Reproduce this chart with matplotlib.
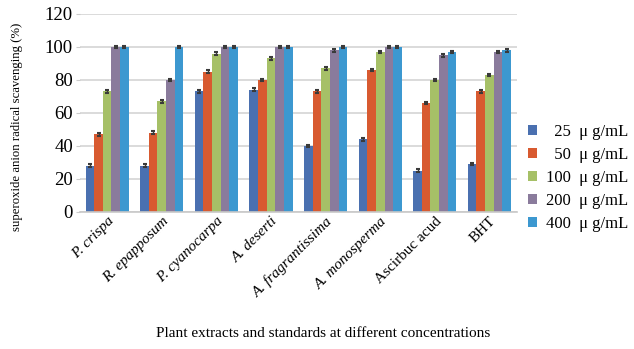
import matplotlib
matplotlib.use("Agg")
import matplotlib.pyplot as plt
import numpy as np

plt.rcParams['font.family'] = ['Liberation Serif', 'DejaVu Serif']

# extractos y patrones
plantas = ["P. crispa", "R. epapposum", "P. cyanocarpa", "A. deserti",
           "A. fragrantissima", "A. monosperma", "Ascirbuc acud", "BHT"]
cursiva = [True, True, True, True, True, True, False, False]

conc = ["25", "50", "100", "200", "400"]

# % de captura del anion superoxido por concentracion
c25 = [28, 28, 73, 74, 40, 44, 25, 29]
c50 = [47, 48, 85, 80, 73, 86, 66, 73]
c100 = [73, 67, 96, 93, 87, 97, 80, 83]
c200 = [100, 80, 100, 100, 98, 100, 95, 97]
c400 = [100, 100, 100, 100, 100, 100, 97, 98]

colores = ["#4A70B0", "#D85A30", "#A6C067", "#8A7B9C", "#3C98D0"]

series = [c25, c50, c100, c200, c400]

fig = plt.figure(figsize=(6.34, 3.49), dpi=100)
ax = fig.add_axes([0.126, 0.393, 0.689, 0.567])

x = np.arange(len(plantas))
ancho = 0.158
for i, s in enumerate(series):
    pos = x + (i - 2) * ancho
    lab = ("  " if len(conc[i]) == 2 else "") + conc[i] + "  \u03bc g/mL"
    ax.bar(pos, s, ancho, color=colores[i], label=lab, zorder=2)
    ax.errorbar(pos, s, yerr=0.8, fmt="none", ecolor="#3a3a3a", capsize=1.6,
                elinewidth=1, capthick=1.5, zorder=3)

ax.set_ylim(0, 120)
ax.set_xlim(-0.5, len(plantas) - 0.5)
ax.set_yticks(range(0, 121, 20))
ax.tick_params(axis="y", labelsize=13.5, length=3, color="#cccccc", pad=2)
ax.tick_params(axis="x", length=0, pad=2)
ax.yaxis.grid(True, color="#d4d4d4", linewidth=1.2, zorder=0)
for lado in ["top", "right", "left"]:
    ax.spines[lado].set_visible(False)
ax.spines["bottom"].set_color("#c8c8c8")
ax.spines["bottom"].set_linewidth(1.2)

ax.set_xticks(x)
ax.set_xticklabels(plantas, rotation=45, ha="right", rotation_mode="anchor",
                   fontsize=11)
for t, c in zip(ax.get_xticklabels(), cursiva):
    if c:
        t.set_style("italic")

ax.set_ylabel("superoxide anion radical scavenging (%)", fontsize=9.2)
ax.yaxis.set_label_coords(-0.13, 0.43)

fig.text(0.51, 0.025, "Plant extracts and standards at different concentrations",
         ha="center", va="bottom", fontsize=11)

leg = ax.legend(loc="center left", bbox_to_anchor=(0.82, 0.49),
                bbox_transform=fig.transFigure, frameon=False, fontsize=12,
                handlelength=0.55, handleheight=0.55, handletextpad=0.5,
                labelspacing=0.42, borderpad=0)

fig.savefig("out.png", dpi=100)
